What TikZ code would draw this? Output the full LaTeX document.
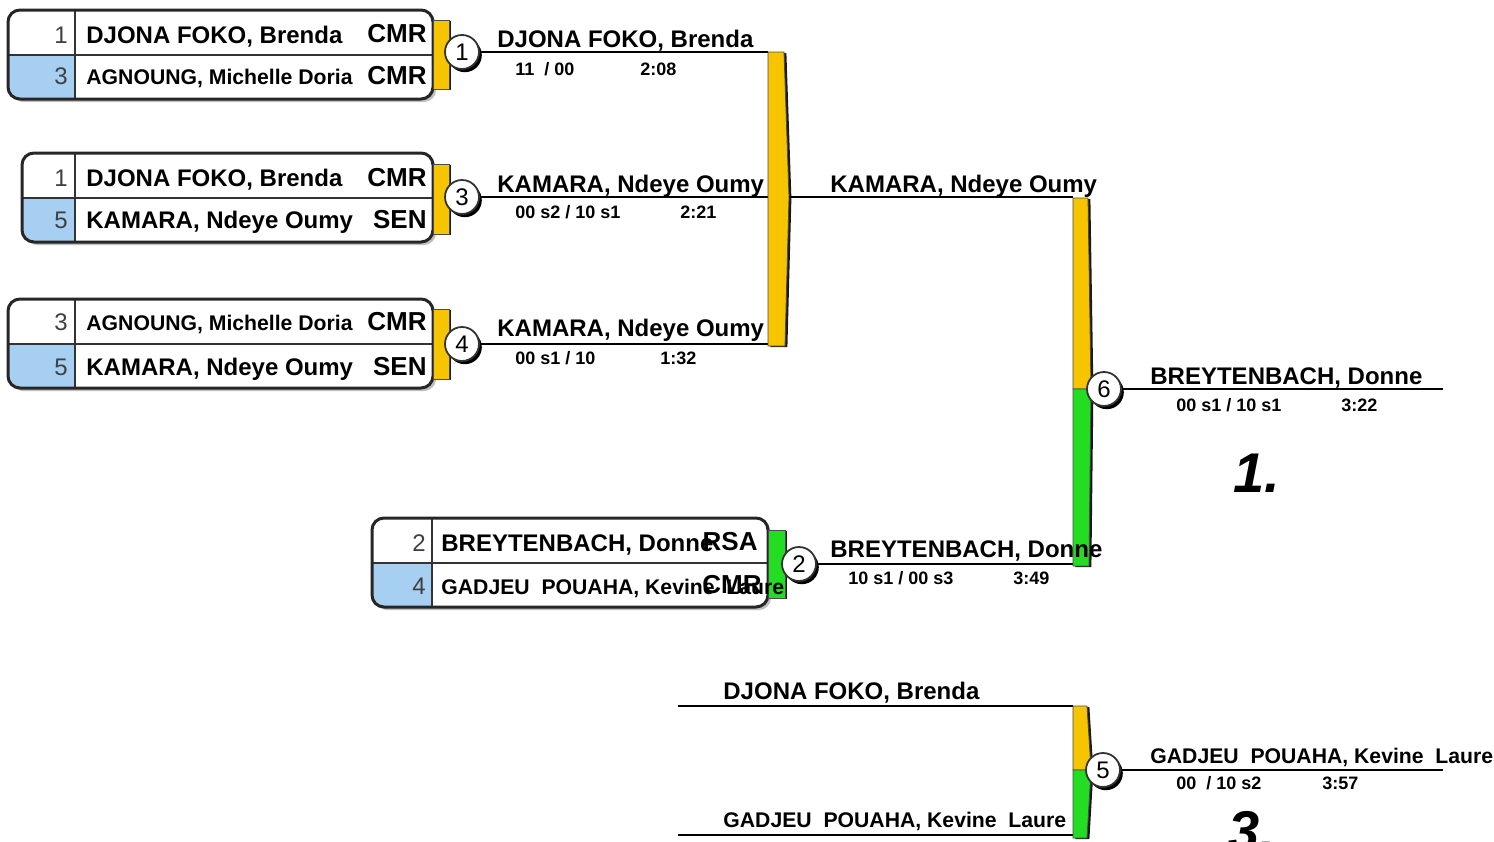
\documentclass[tikz,border=0pt]{standalone}
\usepackage{fontspec}
\setmainfont{Liberation Sans}
\usetikzlibrary{positioning,shadows}

\definecolor{tabyellow}{RGB}{247,196,0}
\definecolor{tabgreen}{RGB}{34,221,34}
\definecolor{seedblue}{RGB}{166,207,242}

\pgfdeclarelayer{back}
\pgfsetlayers{back,main}

\begin{document}
\begin{tikzpicture}[x=0.5pt, y=-0.5pt,
  entry/.style={draw=black!85, line width=1.5pt, rounded corners=6pt},
  tab/.style={draw=black!70, line width=0.4pt,
              drop shadow={shadow xshift=1.2pt, shadow yshift=-0.6pt, fill=black, opacity=0.9}},
  bout/.style={circle, draw=black!80, line width=0.9pt, fill=white, minimum size=17pt,
               inner sep=0pt, font=\fontsize{12}{12}\selectfont,
               drop shadow={shadow xshift=1.4pt, shadow yshift=-1.6pt, fill=black, opacity=1}},
  wire/.style={line width=1.4pt, black},
  seed/.style={anchor=base east, inner sep=0pt, text=black!75, font=\fontsize{12}{12}\selectfont},
  fighter/.style={anchor=base west, inner sep=0pt, font=\bfseries\fontsize{12}{12}\selectfont},
  fightersm/.style={fighter, font=\bfseries\fontsize{10.6}{11}\selectfont},
  nation/.style={anchor=base east, inner sep=0pt, font=\bfseries\fontsize{13}{13}\selectfont},
  score/.style={anchor=base west, inner sep=0pt, font=\bfseries\fontsize{9}{9}\selectfont},
  rank/.style={anchor=base, inner sep=0pt, font=\bfseries\itshape\fontsize{28}{28}\selectfont}
]
  \useasboundingbox (0,0) rectangle (1494,841);

  % bout circles
  \node[bout] (m1) at (462,52) {1};
  \node[bout] (m3) at (462,197) {3};
  \node[bout] (m4) at (462,344) {4};
  \node[bout] (m2) at (799,564) {2};
  \node[bout] (m6) at (1104,389) {6};
  \node[bout] (m5) at (1103,770) {5};

  % bracket columns
  \coordinate (poolbar) at (768,0);
  \coordinate (finalbar) at (1073,0);
  \coordinate (podium) at (1443,0);
  \coordinate (poolout) at (789,197);
  \coordinate (rep1) at (678,706);
  \coordinate (rep2) at (678,835);

  \begin{pgfonlayer}{back}
  \fill[white] (0,0) rectangle (1494,841);

  % entry boxes: left / top / right / seed column
  \foreach \l/\t/\r/\s in {8/10/433/75, 22/153/433/75, 8/299/433/75, 372/518/768/432}{
    \fill[black!25, rounded corners=6pt] (\l+3,\t+3) rectangle (\r+3,\t+92);
    \fill[white, rounded corners=6pt] (\l,\t) rectangle (\r,\t+89);
    \begin{scope}
      \clip[rounded corners=6pt] (\l,\t) rectangle (\r,\t+89);
      \fill[seedblue] (\l,\t+45) rectangle (\s,\t+89);
    \end{scope}
    \draw[line width=0.8pt, black!80] (\l,\t+45) -- (\r,\t+45) (\s,\t) -- (\s,\t+89);
    \draw[entry] (\l,\t) rectangle (\r,\t+89);
  }

  \draw[wire] (m1) -- (m1 -| poolbar);
  \draw[wire] (m3) -- (m3 -| poolbar);
  \draw[wire] (m4) -- (m4 -| poolbar);
  \draw[wire] (poolout) -- (poolout -| finalbar);
  \draw[wire] (m2) -- (m2 -| finalbar);
  \draw[wire] (m6) -- (m6 -| podium);
  \draw[wire] (m5) -- (m5 -| podium);
  \draw[wire] (rep1) -- (rep1 -| finalbar);
  \draw[wire] (rep2) -- (rep2 -| finalbar);

  % tabs and bars
  \draw[tab, fill=tabyellow] (433,20) rectangle (449,89);
  \draw[tab, fill=tabyellow] (433,164) rectangle (449,234);
  \draw[tab, fill=tabyellow] (433,309) rectangle (449,379);
  \draw[tab, fill=tabgreen] (768,530) rectangle (785,598);
  \draw[tab, fill=tabyellow] (768,52) -- (784,52) -- (789,197) -- (785,346) -- (768,346) -- cycle;
  \draw[tab, fill=tabyellow] (1073,198) -- (1088,198) -- (1091,389) -- (1073,389) -- cycle;
  \draw[tab, fill=tabgreen] (1073,389) -- (1091,389) -- (1089,566) -- (1073,566) -- cycle;
  \draw[tab, fill=tabyellow] (1073,706) -- (1087,706) -- (1091,770) -- (1073,770) -- cycle;
  \draw[tab, fill=tabgreen] (1073,770) -- (1091,770) -- (1087,838) -- (1073,838) -- cycle;
  \end{pgfonlayer}

  % pool entries
  \node[seed] (s1a) at (68,43) {1};
  \node[fighter] (f1a) at (86,43) {DJONA FOKO, Brenda};
  \node[nation] (c1a) at (427,42) {CMR};
  \node[seed] (s1b) at (68,84) {3};
  \node[fightersm] (f1b) at (86,84) {AGNOUNG, Michelle Doria};
  \node[nation] (c1b) at (427,84) {CMR};

  \node[seed] (s3a) at (68,186) {1};
  \node[fighter] (f3a) at (86,186) {DJONA FOKO, Brenda};
  \node[nation] (c3a) at (427,186) {CMR};
  \node[seed] (s3b) at (68,228) {5};
  \node[fighter] (f3b) at (86,228) {KAMARA, Ndeye Oumy};
  \node[nation] (c3b) at (427,228) {SEN};

  \node[seed] (s4a) at (68,330) {3};
  \node[fightersm] (f4a) at (86,330) {AGNOUNG, Michelle Doria};
  \node[nation] (c4a) at (427,330) {CMR};
  \node[seed] (s4b) at (68,375) {5};
  \node[fighter] (f4b) at (86,375) {KAMARA, Ndeye Oumy};
  \node[nation] (c4b) at (427,375) {SEN};

  \node[seed] (s2a) at (426,551) {2};
  \node[fighter] (f2a) at (441,551) {BREYTENBACH, Donne};
  \node[nation] (c2a) at (758,550) {RSA};
  \node[seed] (s2b) at (426,594) {4};
  \node[fightersm] (f2b) at (441,594) {GADJEU\ \ POUAHA, Kevine\ \ Laure};
  \node[nation] (c2b) at (762,593) {CMR};

  % results
  \node[fighter] (w1) at (497,47) {DJONA FOKO, Brenda};
  \node[score] (r1) at (515,75) {11\ \ / 00};
  \node[score] (t1) at (640,75) {2:08};

  \node[fighter] (w3) at (497,192) {KAMARA, Ndeye Oumy};
  \node[score] (r3) at (515,218) {00 s2 / 10 s1};
  \node[score] (t3) at (680,218) {2:21};

  \node[fighter] (w4) at (497,336) {KAMARA, Ndeye Oumy};
  \node[score] (r4) at (515,364) {00 s1 / 10};
  \node[score] (t4) at (660,364) {1:32};

  \node[fighter] (wpool) at (830,192) {KAMARA, Ndeye Oumy};

  \node[fighter] (w2) at (830,557) {BREYTENBACH, Donne};
  \node[score] (r2) at (848,584) {10 s1 / 00 s3};
  \node[score] (t2) at (1013,584) {3:49};

  \node[fighter] (w6) at (1150,384) {BREYTENBACH, Donne};
  \node[score] (r6) at (1176,411) {00 s1 / 10 s1};
  \node[score] (t6) at (1341,411) {3:22};

  \node[fighter] (rep1n) at (723,699) {DJONA FOKO, Brenda};
  \node[fightersm] (rep2n) at (723,827) {GADJEU\ \ POUAHA, Kevine\ \ Laure};

  \node[fightersm] (w5) at (1150,763) {GADJEU\ \ POUAHA, Kevine\ \ Laure};
  \node[score] (r5) at (1176,789) {00\ \ / 10 s2};
  \node[score] (t5) at (1322,789) {3:57};

  \node[rank] (gold) at (1257,492) {1.};
  \node[rank] (bronze) at (1252,850) {3.};
\end{tikzpicture}
\end{document}
